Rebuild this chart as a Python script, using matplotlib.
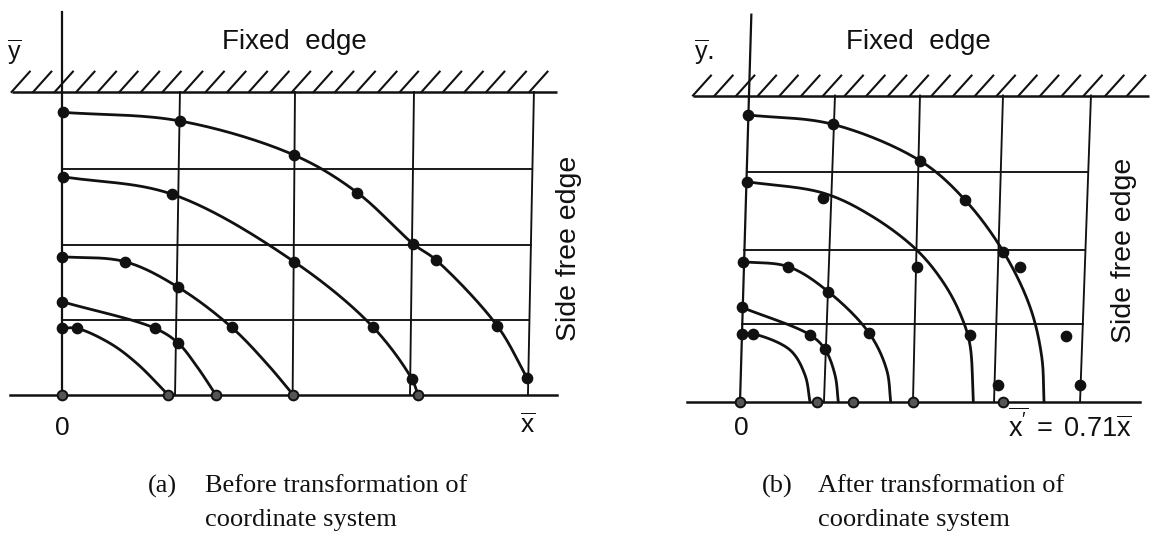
import numpy as np
import matplotlib
matplotlib.use("Agg")
import matplotlib.pyplot as plt

plt.rcParams['mathtext.fontset'] = 'custom'
plt.rcParams['mathtext.rm'] = 'Liberation Sans'
plt.rcParams['mathtext.it'] = 'Liberation Sans:italic'
plt.rcParams['mathtext.bf'] = 'Liberation Sans:bold'

SANS = 'Liberation Sans'
SERIF = 'Liberation Serif'
INK = '#111111'

# ---------------- panel (a): original coordinates ----------------
a_vert_bottom = [0.0, 0.964, 1.967, 2.968, 3.974]
a_vert_top = [0.0, 1.006, 1.987, 3.002, 4.025]
a_horiz = [0.997, 1.995, 3.001]
a_top = 4.03

a_curve1_x = [0.006, 1.006, 1.979, 2.519, 2.996, 3.190, 3.713, 3.968]
a_curve1_y = [3.759, 3.644, 3.191, 2.690, 2.008, 1.795, 0.918, 0.222]
a_curve2_x = [0.006, 0.941, 1.979, 2.650, 2.985, 3.036]
a_curve2_y = [2.903, 2.669, 1.773, 0.908, 0.209, 0.0]
a_curve3_x = [0.0, 0.537, 0.992, 1.447, 1.745, 1.973]
a_curve3_y = [1.839, 1.773, 1.432, 0.900, 0.421, 0.0]
a_curve4_x = [0.0, 0.793, 0.992, 1.150, 1.313]
a_curve4_y = [1.241, 0.887, 0.688, 0.380, 0.0]
a_curve5_x = [0.0, 0.125, 0.409, 0.637, 0.907]
a_curve5_y = [0.887, 0.887, 0.688, 0.422, 0.0]

a_dots_x = [0.006, 1.006, 1.979, 2.519, 2.996, 3.190, 3.713, 3.968,
            0.006, 0.941, 1.979, 2.650, 2.985,
            0.0, 0.537, 0.992, 1.447,
            0.0, 0.793, 0.992,
            0.0, 0.125]
a_dots_y = [3.759, 3.644, 3.191, 2.690, 2.008, 1.795, 0.918, 0.222,
            2.903, 2.669, 1.773, 0.908, 0.209,
            1.839, 1.773, 1.432, 0.900,
            1.241, 0.887, 0.688,
            0.887, 0.887]
a_base_dots_x = [0.0, 0.907, 1.313, 1.973, 3.040]

# ---------------- panel (b): transformed coordinates ----------------
b_vert_bottom = [0.0, 0.982, 2.023, 2.971, 3.977]
b_vert_top = [0.105, 1.111, 2.105, 3.076, 4.105]
b_horiz = [1.013, 1.978, 2.996]
b_top = 3.996

b_curve1_x = [0.097, 1.084, 2.105, 2.632, 3.080, 3.392, 3.529, 3.556]
b_curve1_y = [3.742, 3.621, 3.146, 2.634, 1.960, 1.240, 0.591, 0.0]
b_curve2_x = [0.078, 0.971, 1.520, 2.067, 2.398, 2.596, 2.690, 2.729]
b_curve2_y = [2.872, 2.725, 2.438, 1.982, 1.525, 1.095, 0.743, 0.0]
b_curve3_x = [0.039, 0.565, 1.033, 1.512, 1.716, 1.763]
b_curve3_y = [1.829, 1.764, 1.438, 0.896, 0.417, 0.0]
b_curve4_x = [0.020, 0.819, 0.994, 1.111, 1.150]
b_curve4_y = [1.235, 0.874, 0.687, 0.352, 0.0]
b_curve5_x = [0.020, 0.156, 0.585, 0.760, 0.819]
b_curve5_y = [0.887, 0.887, 0.678, 0.352, 0.0]

b_dots_x = [0.097, 1.084, 2.105, 2.632, 3.080, 3.275, 3.813, 3.977,
            0.078, 0.967, 2.067, 2.690,
            0.039, 0.565, 1.033, 1.512,
            0.020, 0.819, 0.994,
            0.020, 0.156, 3.021]
b_dots_y = [3.742, 3.621, 3.146, 2.634, 1.960, 1.756, 0.860, 0.222,
            2.872, 2.656, 1.764, 0.874,
            1.829, 1.764, 1.438, 0.896,
            1.235, 0.874, 0.687,
            0.887, 0.887, 0.222]
b_base_dots_x = [0.0, 0.904, 1.325, 2.020, 3.080]

W, H = 1156, 540
fig = plt.figure(figsize=(W / 100, H / 100), dpi=100)
fig.patch.set_facecolor('white')


def panel(px_left, px_right, origin, unit):
    ox, oy = origin
    ux, uy = unit
    ax = fig.add_axes([px_left / W, 0, (px_right - px_left) / W, 1])
    ax.set_xlim((px_left - ox) / ux, (px_right - ox) / ux)
    ax.set_ylim((oy - H) / uy, oy / uy)
    ax.axis('off')
    return ax


def smooth(xs, ys, unit, n=30):
    """Centripetal Catmull-Rom line through the given points (in screen scale)."""
    ux, uy = unit
    pts = np.column_stack([np.asarray(xs, float) * ux, np.asarray(ys, float) * uy])
    P = np.vstack([2 * pts[0] - pts[1], pts, 2 * pts[-1] - pts[-2]])
    out = []
    for i in range(1, len(P) - 2):
        p0, p1, p2, p3 = P[i - 1], P[i], P[i + 1], P[i + 2]
        t0 = 0.0
        t1 = t0 + np.linalg.norm(p1 - p0) ** 0.5 + 1e-9
        t2 = t1 + np.linalg.norm(p2 - p1) ** 0.5 + 1e-9
        t3 = t2 + np.linalg.norm(p3 - p2) ** 0.5 + 1e-9
        t = np.linspace(t1, t2, n, endpoint=False)[:, None]
        A1 = (t1 - t) / (t1 - t0) * p0 + (t - t0) / (t1 - t0) * p1
        A2 = (t2 - t) / (t2 - t1) * p1 + (t - t1) / (t2 - t1) * p2
        A3 = (t3 - t) / (t3 - t2) * p2 + (t - t2) / (t3 - t2) * p3
        B1 = (t2 - t) / (t2 - t0) * A1 + (t - t0) / (t2 - t0) * A2
        B2 = (t3 - t) / (t3 - t1) * A2 + (t - t1) / (t3 - t1) * A3
        out.append((t2 - t) / (t2 - t1) * B1 + (t - t1) / (t2 - t1) * B2)
    out.append(pts[-1:])
    s = np.vstack(out)
    return s[:, 0] / ux, s[:, 1] / uy


def draw_panel(ax, unit, vb, vt, hz, top, curves, dots_x, dots_y, base_x,
               axis_top, base_span, hatch_span, hatch_step, hatch_dx, hatch_dy):
    # fixed edge line with hatching
    ax.plot(hatch_span, [top, top], color=INK, lw=1.8, solid_capstyle='butt')
    for hx in np.arange(hatch_span[0], hatch_span[1] - hatch_dx * 0.5, hatch_step):
        ax.plot([hx, hx + hatch_dx], [top, top + hatch_dy], color=INK, lw=1.5)
    # bottom line
    ax.plot(base_span, [0, 0], color=INK, lw=1.8)
    # vertical grid lines (first one is the y axis)
    for i, (b0, t0) in enumerate(zip(vb, vt)):
        ytop = axis_top if i == 0 else top
        xt = b0 + (t0 - b0) * ytop / top
        ax.plot([b0, xt], [0, ytop], color=INK, lw=1.35 if i else 1.6)
    # horizontal grid lines
    for h in hz:
        xl = vb[0] + (vt[0] - vb[0]) * h / top
        xr = vb[-1] + (vt[-1] - vb[-1]) * h / top
        ax.plot([xl, xr], [h, h], color=INK, lw=1.35)
    # contour curves
    for cx, cy in curves:
        sx, sy = smooth(cx, cy, unit)
        ax.plot(sx, sy, color=INK, lw=2.0, solid_capstyle='round')
    # measured points
    ax.plot(dots_x, dots_y, 'o', color=INK, ms=7.4, zorder=5)
    ax.plot(base_x, [0] * len(base_x), 'o', ms=7.0, mfc='#555555',
            mec=INK, mew=1.4, zorder=5)


def ftxt(x, y, s, **kw):
    fig.text(x / W, 1 - y / H, s, **kw)


# panel (a)
unit_a = (117.25, 75.2)
ax_a = panel(0, 578, (62, 395), unit_a)
draw_panel(ax_a, unit_a, a_vert_bottom, a_vert_top, a_horiz, a_top,
           [(a_curve1_x, a_curve1_y), (a_curve2_x, a_curve2_y),
            (a_curve3_x, a_curve3_y), (a_curve4_x, a_curve4_y),
            (a_curve5_x, a_curve5_y)],
           a_dots_x, a_dots_y, a_base_dots_x,
           axis_top=5.09, base_span=[-0.44, 4.22], hatch_span=[-0.43, 4.22],
           hatch_step=0.184, hatch_dx=0.155, hatch_dy=0.27)

# panel (b)
unit_b = (85.5, 76.7)
ax_b = panel(578, W, (740, 402), unit_b)
draw_panel(ax_b, unit_b, b_vert_bottom, b_vert_top, b_horiz, b_top,
           [(b_curve1_x, b_curve1_y), (b_curve2_x, b_curve2_y),
            (b_curve3_x, b_curve3_y), (b_curve4_x, b_curve4_y),
            (b_curve5_x, b_curve5_y)],
           b_dots_x, b_dots_y, b_base_dots_x,
           axis_top=5.05, base_span=[-0.62, 4.68], hatch_span=[-0.55, 4.78],
           hatch_step=0.254, hatch_dx=0.21, hatch_dy=0.26)

# labels
ftxt(14, 52, r'$\overline{\mathrm{y}}$', fontsize=18, ha='center', va='center', color=INK)
ftxt(704, 52, r'$\overline{\mathrm{y}}$.', fontsize=18, ha='center', va='center', color=INK)
ftxt(294, 42, 'Fixed  edge', family=SANS, fontsize=20, ha='center', va='center', color=INK)
ftxt(918, 42, 'Fixed  edge', family=SANS, fontsize=20, ha='center', va='center', color=INK)
ftxt(569, 248, 'Side free edge', family=SANS, fontsize=20.5, rotation=90,
     ha='center', va='center', color=INK)
ftxt(1124, 250, 'Side free edge', family=SANS, fontsize=20.5, rotation=90,
     ha='center', va='center', color=INK)
ftxt(62, 428, '0', family=SANS, fontsize=19, ha='center', va='center', color=INK)
ftxt(741, 428, '0', family=SANS, fontsize=19, ha='center', va='center', color=INK)
ftxt(528, 426, r'$\overline{\mathrm{x}}$', fontsize=19, ha='center', va='center', color=INK)
ftxt(1008, 426, r"$\overline{\mathrm{x}^{\prime}}\;=\;0.71\overline{\mathrm{x}}$",
     fontsize=19.5, ha='left', va='center', color=INK)

# captions
ftxt(148, 486, '(a)', family=SERIF, fontsize=19, ha='left', va='center', color=INK)
ftxt(205, 486, 'Before transformation of', family=SERIF, fontsize=19, ha='left', va='center', color=INK)
ftxt(205, 520, 'coordinate system', family=SERIF, fontsize=19, ha='left', va='center', color=INK)
ftxt(762, 486, '(b)', family=SERIF, fontsize=19, ha='left', va='center', color=INK)
ftxt(818, 486, 'After transformation of', family=SERIF, fontsize=19, ha='left', va='center', color=INK)
ftxt(818, 520, 'coordinate system', family=SERIF, fontsize=19, ha='left', va='center', color=INK)

fig.savefig('out.png', dpi=100, facecolor='white')
